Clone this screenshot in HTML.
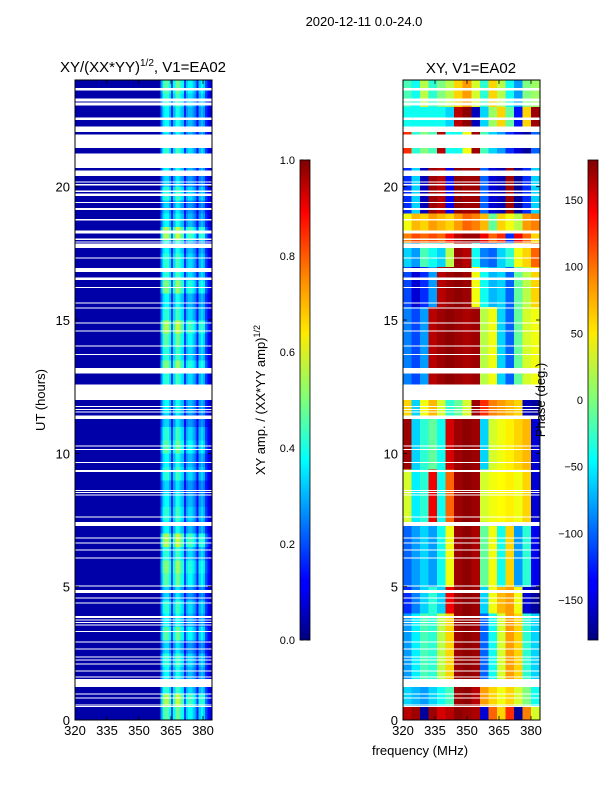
<!DOCTYPE html>
<html><head><meta charset="utf-8">
<style>
body{margin:0;background:#fff;}
svg{display:block;font-family:"Liberation Sans",sans-serif;}
</style></head>
<body>
<svg id="fig" width="600" height="800" viewBox="0 0 600 800" xmlns="http://www.w3.org/2000/svg">
<defs>
<linearGradient id="jet" x1="0" y1="1" x2="0" y2="0">
<stop offset="0" stop-color="#00007f"/><stop offset="0.11" stop-color="#0000ff"/><stop offset="0.125" stop-color="#0000ff"/>
<stop offset="0.34" stop-color="#00dcff"/><stop offset="0.375" stop-color="#00ffff"/><stop offset="0.5" stop-color="#7dff7a"/>
<stop offset="0.64" stop-color="#ffea00"/><stop offset="0.75" stop-color="#ff8c00"/><stop offset="0.89" stop-color="#ff0000"/>
<stop offset="1" stop-color="#7f0000"/>
</linearGradient>
</defs>
<text x="364" y="26" font-size="13" text-anchor="middle">2020-12-11 0.0-24.0</text>
<text x="143" y="72" font-size="15" text-anchor="middle">XY/(XX*YY)<tspan font-size="10" dy="-6">1/2</tspan><tspan dy="6">, V1=EA02</tspan></text>
<text x="471" y="73" font-size="15" text-anchor="middle">XY, V1=EA02</text>
<g id="left"></g>
<g id="right"></g>
<g id="axes"></g>
<text transform="translate(45,400) rotate(-90)" font-size="13" text-anchor="middle">UT (hours)</text>
<text transform="translate(265,400) rotate(-90)" font-size="13" text-anchor="middle">XY amp. / (XX*YY amp)<tspan font-size="9" dy="-5">1/2</tspan></text>
<text transform="translate(545,400) rotate(-90)" font-size="13" text-anchor="middle">Phase (deg.)</text>
<text x="420" y="755" font-size="13" text-anchor="middle">frequency (MHz)</text>
<rect x="300" y="160" width="10" height="480" fill="url(#jet)" stroke="#000" stroke-width="0.8"/>
<rect x="588" y="160" width="10" height="480" fill="url(#jet)" stroke="#000" stroke-width="0.8"/>
</svg>
<script>
// ---- data ----
var gaps = [[0.49,0.52],[0.55,0.58],[0.81,0.84],[0.96,0.99],[1.24,1.54],[1.61,1.64],[1.83,1.86],[2.09,2.12],[2.24,2.27],[2.36,2.39],[2.65,2.68],[2.91,2.94],[3.3,3.33],[3.55,3.58],[3.65,3.68],[3.73,3.76],[3.83,3.9],[4.37,4.4],[4.57,4.6],[4.76,4.87],[5.02,5.05],[6.07,6.1],[6.36,6.39],[6.62,6.65],[6.82,6.85],[7.28,7.42],[7.61,7.64],[8.42,8.45],[8.52,8.55],[8.59,8.62],[9.3,9.37],[9.65,9.68],[10.14,10.17],[10.26,10.29],[11.28,11.42],[11.54,11.57],[11.64,11.67],[11.74,11.77],[12.0,12.58],[13.0,13.2],[13.7,13.72],[14.0,14.05],[14.58,14.6],[14.88,14.9],[15.44,15.47],[15.62,15.65],[16.2,16.23],[16.5,16.6],[16.8,16.95],[17.3,17.35],[17.7,17.86],[17.9,17.95],[18.0,18.05],[18.25,18.35],[18.73,18.78],[19.13,19.2],[19.38,19.43],[19.65,19.75],[19.8,19.85],[20.05,20.1],[20.15,20.2],[20.4,20.6],[20.7,21.25],[21.45,21.95],[22.05,22.25],[22.5,22.6],[23.05,23.15],[23.2,23.3],[23.6,23.7]];
var ampDark = 0.04;
var ampBandStart = 360;
var ampBand = [0.25,0.38,0.42,0.42,0.34,0.18,0.34,0.44,0.44,0.38,0.34,0.17,0.3,0.34,0.34,0.3,0.26,0.14,0.3,0.34,0.3,0.18,0.12,0.1];
var ampGain = [1.1,1.3,1.0,0.9,1.0,0.8,1.1,0.9,1.0,0.8,1.1,1.2,1.0,1.3,0.9,1.0,0.9,0.8,1.0,0.9,1.1,1.0,0.8,0.9,0.9,1.0,1.2,1.0,1.1,1.3,1.0,0.9,1.2,1.0,1.0,0.9,1.3,0.9,0.8,1.0,0.8,0.9,1.0,0.8,0.9,0.9,1.0,1.1];
var phaseSegStart = [0,0.5,1.5,4,5,7.4,9.4,11.4,12.6,15.5,17,17.9,18.3,19,21.2,22.2,23];
var phaseSegEnd   = [0.5,1.5,4,5,7.4,9.4,11.4,12.6,15.5,17,17.9,18.3,19,21.2,22.2,23,24];
var phaseSegs = [
[160,170,-170,170,150,160,175,170,165,-150,100,60,120,-170,90,30],
[-60,-70,-80,-60,-40,-20,170,175,160,80,60,40,60,30,0,-40],
[-80,-50,-20,-30,20,60,170,175,170,-100,-40,30,80,60,-30,-60],
[-120,-90,-60,-30,-60,140,170,175,170,-60,40,70,80,40,-150,-170],
[-100,-80,-60,-80,-40,40,170,175,165,-10,40,-40,60,-80,-30,-140],
[30,-50,-30,140,-40,100,170,175,170,30,40,45,50,40,60,-150],
[170,-60,-30,-10,-40,150,170,175,170,-60,30,40,50,60,70,-150],
[60,-60,40,70,30,-30,-10,30,170,120,90,80,70,60,-160,-170],
[-90,-110,-80,160,170,175,170,165,170,20,40,-60,-100,-10,30,40],
[-110,-150,-120,-80,160,170,175,170,40,-40,-70,-60,-100,-10,20,60],
[-60,-80,-20,-40,-60,20,170,160,-40,-90,-100,-60,-30,40,60,100],
[90,110,100,110,100,130,160,170,170,140,100,120,-120,140,100,60],
[40,70,60,80,70,60,80,100,90,70,-10,60,40,20,80,90],
[-120,-60,-160,170,160,-140,175,170,170,-100,-150,-160,170,-170,-120,-60],
[120,-30,0,-20,160,-40,-40,40,170,-20,-60,-80,-120,-150,-170,-100],
[-40,-40,-40,-40,-40,-60,160,175,-160,-60,10,60,-10,-130,60,170],
[-20,-40,20,-30,0,20,60,80,30,-30,60,20,-40,-80,0,10]];
var xTicks = [320,335,350,365,380];
var yTicks = [0,5,10,15,20];
var ampTicks = [0.0,0.2,0.4,0.6,0.8,1.0];
var phaseTicks = [-150,-100,-50,0,50,100,150];

// ---- scales ----
var NS="http://www.w3.org/2000/svg";
function yU(u){return 720-u*(640/24);}
function xL(f){return 75+(f-320)*(32/15);}
function xR(f){return 403+(f-320)*(32/15);}
function cbA(v){return 640-v*480;}
function cbP(v){return 400-v*(480/360);}
function cl(v){return Math.max(0,Math.min(1,v));}
function jet(x){x=cl(x);var r=cl(1.5-Math.abs(4*x-3)),g=cl(1.5-Math.abs(4*x-2)),b=cl(1.5-Math.abs(4*x-1));
return "rgb("+Math.round(r*255)+","+Math.round(g*255)+","+Math.round(b*255)+")";}
function rect(p,x,y,w,h,fill){var r=document.createElementNS(NS,"rect");r.setAttribute("x",x);r.setAttribute("y",y);r.setAttribute("width",w);r.setAttribute("height",h);r.setAttribute("fill",fill);r.setAttribute("shape-rendering","crispEdges");p.appendChild(r);return r;}
function txt(p,x,y,s,anchor,size){var t=document.createElementNS(NS,"text");t.setAttribute("x",x);t.setAttribute("y",y);t.setAttribute("text-anchor",anchor);t.setAttribute("font-size",size||12);t.textContent=s;p.appendChild(t);return t;}
function line(p,x1,y1,x2,y2){var l=document.createElementNS(NS,"line");l.setAttribute("x1",x1);l.setAttribute("y1",y1);l.setAttribute("x2",x2);l.setAttribute("y2",y2);l.setAttribute("stroke","#000");l.setAttribute("stroke-width","0.8");p.appendChild(l);return l;}

// ---- left heatmap ----
var L=document.getElementById("left");
var bg=rect(L,xL(320),yU(24),xL(ampBandStart)-xL(320),yU(0)-yU(24),jet(ampDark));


for(var i=0;i<ampGain.length;i++){
  var u0=i*0.5,u1=u0+0.5;
  for(var c=0;c<ampBand.length;c++){
    var f=ampBandStart+c;
    var r=rect(L,xL(f),yU(u1),xL(f+1)-xL(f)+0.3,yU(u0)-yU(u1)+0.3,jet(ampBand[c]*ampGain[i]));
    
    
  }
}
// ---- right heatmap ----
var R=document.getElementById("right");
for(var s=0;s<phaseSegs.length;s++){
  for(var c=0;c<16;c++){
    var f=320+c*4;
    var r=rect(R,xR(f),yU(phaseSegEnd[s]),xR(f+4)-xR(f)+0.3,yU(phaseSegStart[s])-yU(phaseSegEnd[s])+0.3,jet((phaseSegs[s][c]+180)/360));
    
    
  }
}
// gaps
gaps.forEach(function(g){
  var a=rect(L,75,yU(g[1]),137,Math.max(1,yU(g[0])-yU(g[1])),"#fff");
  
  
  var b=rect(R,403,yU(g[1]),137,Math.max(1,yU(g[0])-yU(g[1])),"#fff");
  
  
});
// ---- axes ----
var A=document.getElementById("axes");
[[75,xL],[403,xR]].forEach(function(pr,k){
  var x0=pr[0],fx=pr[1];
  var fr=rect(A,x0,80,137,640,"none");fr.setAttribute("stroke","#000");fr.setAttribute("stroke-width","1");
  
  
  xTicks.forEach(function(t){line(A,fx(t),720,fx(t),716);line(A,fx(t),80,fx(t),84);
    var tl=txt(A,fx(t),735,String(t),"middle",13);
    
    });
  yTicks.forEach(function(t){line(A,x0,yU(t),x0+4,yU(t));line(A,x0+137,yU(t),x0+133,yU(t));
    var tl=txt(A,x0-5,yU(t)+5,String(t),"end",13);
    
    });
});
ampTicks.forEach(function(t){line(A,300,cbA(t),304,cbA(t));line(A,310,cbA(t),306,cbA(t));
  var tl=txt(A,295,cbA(t)+4,t.toFixed(1),"end",11);
  
  });
phaseTicks.forEach(function(t){line(A,588,cbP(t),592,cbP(t));line(A,598,cbP(t),594,cbP(t));
  var tl=txt(A,583,cbP(t)+4,String(t).replace("-","\u2212"),"end",11);
  
  });
</script>
</body></html>
